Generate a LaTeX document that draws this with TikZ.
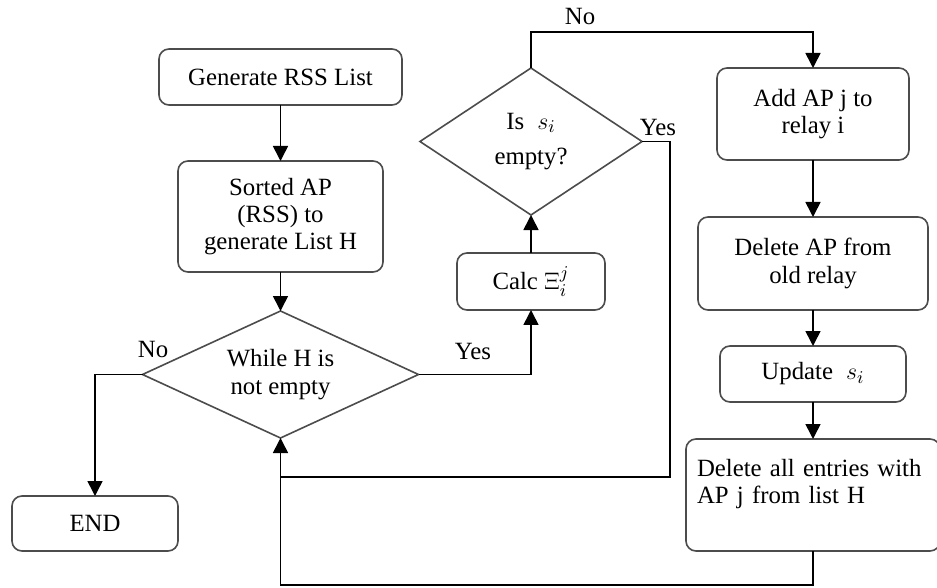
\documentclass[tikz,border=0pt]{standalone}
\usepackage{fontspec}
\setmainfont{Liberation Serif}
\usepackage{tikz}
\usetikzlibrary{arrows.meta,calc,positioning,shapes.geometric}
\tikzset{%
        ->,
        >={Triangle[width=7.5pt,length=7.5pt]},
        node distance=18pt
}
\tikzstyle{block}=[
    draw = black!70,
    fill = white,
    rounded corners = 5pt,
    line width = 0.8pt,
    outer sep = 0pt,
    align = center
]
\tikzstyle{decision}=[
    diamond,
    draw = black!70,
    fill = white,
    line width = 0.8pt,
    inner sep = 0pt,
    outer sep = 0pt,
    aspect = 2,
    align = center
]
\tikzstyle{every edge}=[
    draw = black,
    line width = 0.8pt
]
\begin{document}
\begin{tikzpicture}[x=0.5pt, y=-0.5pt, line width=0.8pt,
        font=\fontsize{12.4pt}{13.6pt}\selectfont]
            \useasboundingbox (0,0) rectangle (937,588);
            % left column
            \node[block, minimum width=121.5pt, minimum height=28pt] (gen) at (280.5,77) {Generate RSS List};
            \node[block, below=28pt of gen, minimum width=102.5pt, minimum height=55.5pt] (sort) {Sorted AP\\(RSS) to\\generate List H};
            \node[decision, below=19.5pt of sort, minimum width=138pt, minimum height=63.5pt] (while) {While H is\\not empty};
            \node[block, minimum width=83pt, minimum height=27.5pt] (end) at (95,523.5) {END};
            % middle column
            \node[block, minimum width=74pt, minimum height=28.5pt] (calc) at (531,281.5) {Calc $\Xi_i^j$};
            \node[decision, above=19pt of calc, minimum width=111pt, minimum height=73.5pt] (empty) {Is \;$s_i$\\[4pt]empty?};
            % right column
            \node[block, minimum width=96pt, minimum height=46pt] (add) at (813,114) {Add AP j to\\relay i};
            \node[block, below=28.5pt of add, minimum width=115pt, minimum height=46.5pt] (del) {Delete AP from\\old relay};
            \node[block, below=18pt of del, minimum width=93pt, minimum height=28pt] (upd) {Update \;$s_i$};
            \node[block, below=18.5pt of upd, text width=116pt, inner xsep=5.5pt, minimum height=56pt, align=left] (delall) {Delete all entries with\\AP j from list H\\\mbox{}};
            % corners of the loops
            \coordinate (top) at (531,32);
            \coordinate (side) at (670,477);
            \coordinate (bottom) at (280.5,585);
            \path
            (gen) edge (sort)
            (sort) edge (while)
            (calc) edge (empty)
            (add) edge (del)
            (del) edge (upd)
            (upd) edge (delall)
            ;
            \draw (while.west) -| (end.north);
            \draw (while.east) -| (calc.south);
            \draw (empty.north) -- (top) -| (add.north);
            \draw[-] (empty.east) -| (side) -- (side -| while.south);
            \draw (delall.south) |- (bottom) -- (while.south);
            % labels
            \node (nowhile) at (153,350) {No};
            \node (yeswhile) at (473,352) {Yes};
            \node (noempty) at (580,17) {No};
            \node (yesempty) at (658,128) {Yes};
        \end{tikzpicture}
\end{document}
